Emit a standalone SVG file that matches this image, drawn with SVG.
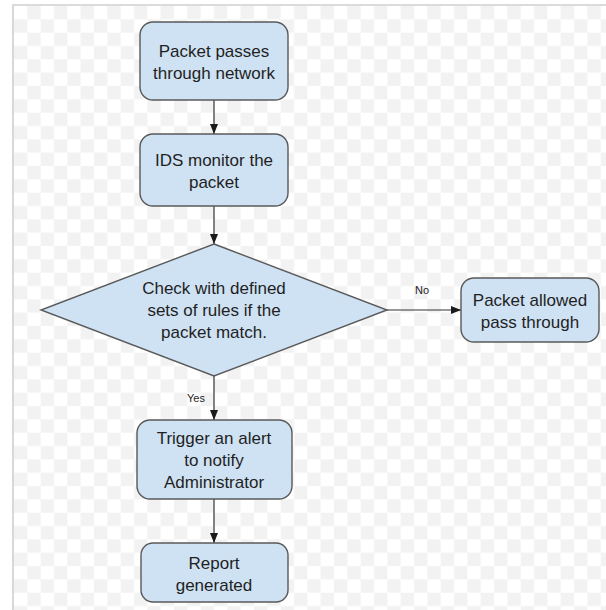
<svg xmlns="http://www.w3.org/2000/svg" width="606" height="610" viewBox="0 0 606 610">
  <style>
    .node { fill: #cfe2f3; stroke: #595959; stroke-width: 1.4; }
    .label { font-family: "Liberation Sans", Arial, sans-serif; font-size: 17px; fill: #1f1f1f; text-anchor: middle; }
    .edge-label { font-family: "Liberation Sans", Arial, sans-serif; font-size: 11px; fill: #1f1f1f; text-anchor: middle; }
    .edge { fill: none; stroke: #333333; stroke-width: 1.2; marker-end: url(#arrow); }
  </style>
  <defs>
    <pattern id="checker" patternUnits="userSpaceOnUse" x="14" y="6" width="26.67" height="26.67">
      <rect x="0" y="0" width="26.67" height="26.67" fill="#ffffff"/>
      <rect x="13.33" y="0" width="13.34" height="13.33" fill="#f2f2f2"/>
      <rect x="0" y="13.33" width="13.33" height="13.34" fill="#f2f2f2"/>
    </pattern>
    <marker id="arrow" markerUnits="userSpaceOnUse" markerWidth="10" markerHeight="8" refX="10" refY="4" orient="auto">
      <path d="M0,0 L10,4 L0,8 z" fill="#1a1a1a"/>
    </marker>
  </defs>

  <!-- canvas -->
  <rect x="0" y="0" width="606" height="610" fill="#ffffff"/>
  <rect x="14" y="6" width="592" height="604" fill="url(#checker)"/>
  <path d="M13,610 V5 H606" fill="none" stroke="#cfcfcf" stroke-width="1.6"/>

  <!-- connectors -->
  <g id="connectors">
    <line class="edge" x1="214" y1="100" x2="214" y2="134"/>
    <line class="edge" x1="214" y1="206" x2="214" y2="244"/>
    <line class="edge" x1="387" y1="310" x2="461" y2="310"/>
    <text class="edge-label" x="422" y="294">No</text>
    <line class="edge" x1="214" y1="376" x2="214" y2="420"/>
    <text class="edge-label" x="196" y="402">Yes</text>
    <line class="edge" x1="214" y1="499" x2="214" y2="543"/>
  </g>

  <g id="packet-passes">
    <rect class="node" x="140" y="22" width="148" height="78" rx="13"/>
    <text class="label" x="214" y="57">Packet passes</text>
    <text class="label" x="214" y="79">through network</text>
  </g>

  <g id="ids-monitor">
    <rect class="node" x="140" y="134" width="148" height="72" rx="13"/>
    <text class="label" x="214" y="166">IDS monitor the</text>
    <text class="label" x="214" y="188">packet</text>
  </g>

  <g id="check-rules">
    <polygon class="node" points="214,244 387,310 214,376 41,310"/>
    <text class="label" x="214" y="294">Check with defined</text>
    <text class="label" x="214" y="316">sets of rules if the</text>
    <text class="label" x="214" y="338">packet match.</text>
  </g>

  <g id="allowed-through">
    <rect class="node" x="461" y="278" width="138" height="64" rx="13"/>
    <text class="label" x="530" y="306">Packet allowed</text>
    <text class="label" x="530" y="328">pass through</text>
  </g>

  <g id="trigger-alert">
    <rect class="node" x="137" y="420" width="155" height="79" rx="13"/>
    <text class="label" x="214" y="444">Trigger an alert</text>
    <text class="label" x="214" y="466">to notify</text>
    <text class="label" x="214" y="488">Administrator</text>
  </g>

  <g id="report">
    <rect class="node" x="141" y="543" width="147" height="59" rx="12"/>
    <text class="label" x="214" y="569">Report</text>
    <text class="label" x="214" y="591">generated</text>
  </g>
</svg>
